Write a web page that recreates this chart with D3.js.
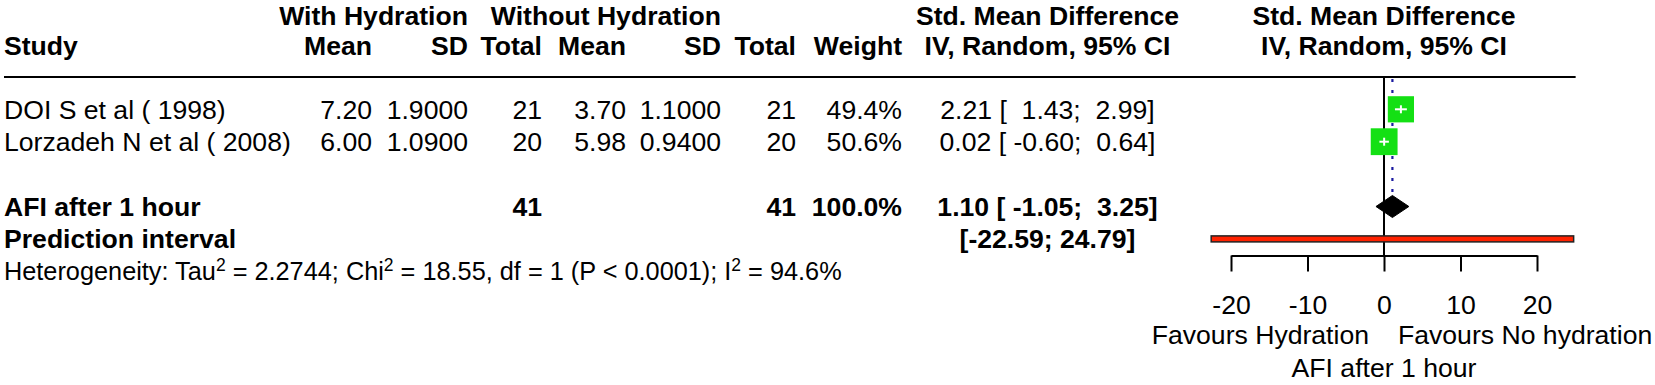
<!DOCTYPE html>
<html>
<head>
<meta charset="utf-8">
<script src="https://cdn.jsdelivr.net/npm/d3@7"></script>
<style>
  html, body { margin: 0; padding: 0; background: #fff; }
  svg { display: block; }
  text { font-family: "Liberation Sans", Arial, sans-serif; fill: #000; white-space: pre; }
</style>
</head>
<body>
<svg id="chart" width="1655" height="385"></svg>
<script>
// ---- data ----
const studies  = ["DOI S et al ( 1998)", "Lorzadeh N et al ( 2008)"];
const meanE    = ["7.20", "6.00"];
const sdE      = ["1.9000", "1.0900"];
const totalE   = [21, 20];
const meanC    = ["3.70", "5.98"];
const sdC      = ["1.1000", "0.9400"];
const totalC   = [21, 20];
const weights  = [49.4, 50.6];
const smd      = [2.21, 0.02];
const ciLower  = [1.43, -0.60];
const ciUpper  = [2.99, 0.64];
const ciText   = ["2.21 [  1.43;  2.99]", "0.02 [ -0.60;  0.64]"];

const pooledLabel = "AFI after 1 hour";
const pooledTotals = [41, 41];
const pooledWeight = "100.0%";
const pooledEst = 1.10, pooledLo = -1.05, pooledHi = 3.25;
const pooledText = "1.10 [ -1.05;  3.25]";
const predLabel = "Prediction interval";
const predLo = -22.59, predHi = 24.79;
const predText = "[-22.59; 24.79]";

const tickValues = [-20, -10, 0, 10, 20];
const leftLabel = "Favours Hydration";
const rightLabel = "Favours No hydration";
const axisTitle = "AFI after 1 hour";

// ---- drawing ----
const svg = d3.select("#chart");
const FS = 26.6;

const x = d3.scaleLinear().domain([-20, 20]).range([1231, 1537]);
const y = d3.scaleLinear().domain([0, 5]).range([109.3, 271.3]);
const side = d3.scaleLinear().domain([0, 50]).range([0, 26.5]);
const base = r => y(r) + 0.358 * FS; // baseline so that caps are centred on row

// column right edges
const colR = { meanE: 372, sdE: 468, totE: 542, meanC: 626, sdC: 721, totC: 796, w: 902 };
const ciCenter = 1047.5;

function txt(g, xx, yy, s, anchor, bold, size) {
  return g.append("text").attr("x", xx).attr("y", yy)
    .attr("text-anchor", anchor || "start")
    .attr("font-weight", bold ? "bold" : "normal")
    .attr("font-size", size || FS)
    .text(s);
}

// headers
const H1 = 24.5, H2 = 55;
txt(svg, 468, H1, "With Hydration", "end", true);
txt(svg, 721, H1, "Without Hydration", "end", true);
txt(svg, ciCenter, H1, "Std. Mean Difference", "middle", true);
txt(svg, x(0), H1, "Std. Mean Difference", "middle", true);
txt(svg, 4, H2, "Study", "start", true);
txt(svg, colR.meanE, H2, "Mean", "end", true);
txt(svg, colR.sdE, H2, "SD", "end", true);
txt(svg, colR.totE, H2, "Total", "end", true);
txt(svg, colR.meanC, H2, "Mean", "end", true);
txt(svg, colR.sdC, H2, "SD", "end", true);
txt(svg, colR.totC, H2, "Total", "end", true);
txt(svg, colR.w, H2, "Weight", "end", true);
txt(svg, ciCenter, H2, "IV, Random, 95% CI", "middle", true);
txt(svg, x(0), H2, "IV, Random, 95% CI", "middle", true);

// header rule
const ruleY = 77;
svg.append("line").attr("x1", 4).attr("x2", x(predHi) + 2)
  .attr("y1", ruleY).attr("y2", ruleY).attr("stroke", "#000").attr("stroke-width", 2);

// study rows
studies.forEach((s, i) => {
  const b = base(i);
  txt(svg, 4, b, s, "start");
  txt(svg, colR.meanE, b, meanE[i], "end");
  txt(svg, colR.sdE, b, sdE[i], "end");
  txt(svg, colR.totE, b, String(totalE[i]), "end");
  txt(svg, colR.meanC, b, meanC[i], "end");
  txt(svg, colR.sdC, b, sdC[i], "end");
  txt(svg, colR.totC, b, String(totalC[i]), "end");
  txt(svg, colR.w, b, weights[i].toFixed(1) + "%", "end");
  txt(svg, ciCenter, b, ciText[i], "middle");
});

// pooled row
txt(svg, 4, base(3), pooledLabel, "start", true);
txt(svg, colR.totE, base(3), String(pooledTotals[0]), "end", true);
txt(svg, colR.totC, base(3), String(pooledTotals[1]), "end", true);
txt(svg, colR.w, base(3), pooledWeight, "end", true);
txt(svg, ciCenter, base(3), pooledText, "middle", true);

// prediction row
txt(svg, 4, base(4), predLabel, "start", true);
txt(svg, ciCenter, base(4), predText, "middle", true);

// heterogeneity
const het = svg.append("text").attr("x", 4).attr("y", base(5) - 1).attr("font-size", 25.3);
const sup = s => het.append("tspan").attr("font-size", 17.5).attr("dy", -9).text(s);
const nor = s => het.append("tspan").attr("dy", 9).text(s);
het.append("tspan").text("Heterogeneity: Tau");
sup("2"); nor(" = 2.2744; Chi"); sup("2"); nor(" = 18.55, df = 1 (P < 0.0001); I"); sup("2"); nor(" = 94.6%");

// ---- plot ----
const axisY = 255.5;
// zero line
svg.append("line").attr("x1", x(0)).attr("x2", x(0)).attr("y1", ruleY).attr("y2", axisY)
  .attr("stroke", "#000").attr("stroke-width", 2);

// pooled estimate dotted line
const diamondH = 11;
svg.append("line").attr("x1", x(pooledEst)).attr("x2", x(pooledEst))
  .attr("y1", ruleY + 2).attr("y2", y(3) - diamondH)
  .attr("stroke", "#1a1aa0").attr("stroke-width", 2.2).attr("stroke-dasharray", "3,8");

// squares
studies.forEach((s, i) => {
  const sz = side(weights[i]);
  const cx = x(smd[i]), cy = y(i);
  svg.append("rect").attr("x", cx - sz / 2).attr("y", cy - sz / 2)
    .attr("width", sz).attr("height", sz).attr("fill", "#14e014");
  svg.append("line").attr("x1", x(ciLower[i])).attr("x2", x(ciUpper[i]))
    .attr("y1", cy).attr("y2", cy).attr("stroke", "#fff").attr("stroke-width", 2);
  svg.append("line").attr("x1", cx).attr("x2", cx)
    .attr("y1", cy - 4).attr("y2", cy + 4).attr("stroke", "#fff").attr("stroke-width", 2);
});

// diamond
const dPts = [[x(pooledLo), y(3)], [x(pooledEst), y(3) - diamondH], [x(pooledHi), y(3)], [x(pooledEst), y(3) + diamondH]];
svg.append("path").attr("d", d3.line()(dPts) + "Z").attr("fill", "#000").attr("stroke", "#000").attr("stroke-width", 1);

// prediction interval bar
const pH = 6;
svg.append("rect").attr("x", x(predLo)).attr("y", y(4) - pH / 2)
  .attr("width", x(predHi) - x(predLo)).attr("height", pH)
  .attr("fill", "#ff2200").attr("stroke", "#222").attr("stroke-width", 1.5);

// axis
const axis = d3.axisBottom(x).tickValues(tickValues).tickSize(16).tickSizeOuter(0).tickPadding(24)
  .tickFormat(d3.format("d"));
const ag = svg.append("g").attr("transform", `translate(0,${axisY})`).call(axis);
ag.select(".domain").attr("stroke", "#000").attr("stroke-width", 2);
ag.selectAll(".tick line").attr("stroke", "#000").attr("stroke-width", 2);
ag.selectAll(".tick text").attr("font-size", FS).attr("font-family", "Liberation Sans, Arial, sans-serif").attr("fill", "#000")
  .text(d => d < 0 ? "-" + Math.abs(d) : String(d));

// axis labels
txt(svg, x(0) - 15, 344, leftLabel, "end");
txt(svg, x(0) + 14, 344, rightLabel, "start");
txt(svg, x(0), 377, axisTitle, "middle");
</script>
</body>
</html>
